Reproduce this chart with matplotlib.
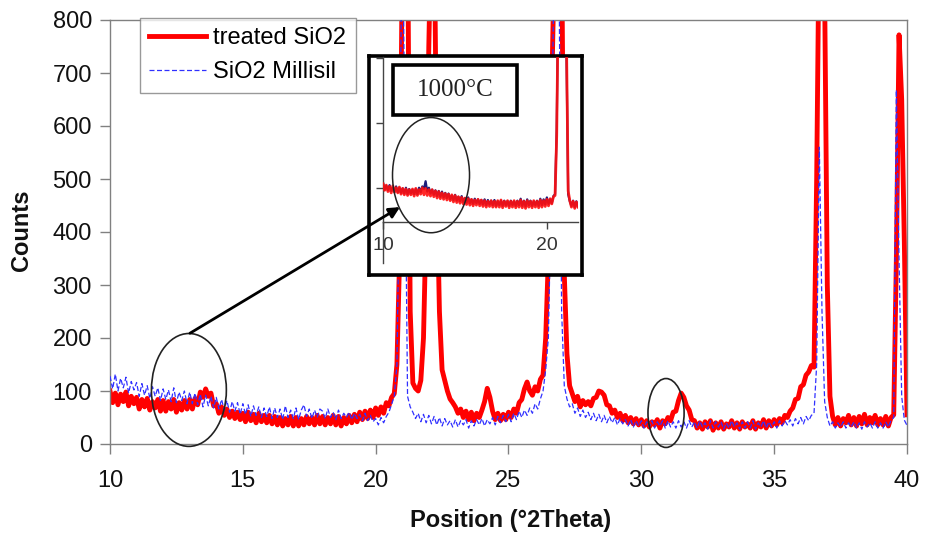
import numpy as np
import matplotlib
matplotlib.use('Agg')
import matplotlib.pyplot as plt
from matplotlib.patches import Ellipse, Rectangle, FancyArrowPatch
from matplotlib.lines import Line2D

plt.rcParams['font.family'] = ['Liberation Sans', 'DejaVu Sans']

# ---------------- data (main pattern, 10.0 .. 40.0 step 0.1 deg 2Theta) -------------
position = np.round(np.linspace(10.0, 40.0, 301), 1)

treated_sio2 = [
    100, 78, 96, 74, 94, 80, 98, 72, 90, 76,       # 10
    88, 66, 84, 70, 86, 64, 80, 68, 84, 62,        # 11
    82, 62, 80, 66, 84, 60, 78, 64, 82, 66,        # 12
    84, 66, 86, 74, 98, 88, 104, 90, 96, 72,       # 13
    76, 58, 70, 54, 66, 50, 62, 48, 60, 46,        # 14
    58, 42, 60, 44, 56, 40, 58, 42, 54, 40,        # 15
    54, 38, 52, 36, 50, 34, 48, 36, 52, 34,        # 16
    50, 34, 48, 36, 52, 38, 50, 36, 54, 38,        # 17
    52, 36, 50, 38, 54, 36, 52, 34, 50, 38,        # 18
    54, 40, 56, 42, 60, 46, 62, 48, 64, 50,        # 19
    68, 54, 70, 58, 78, 72, 88, 95, 150, 350,      # 20
    900, 1000, 1000, 250, 115, 105, 100, 120, 200, 420,   # 21
    750, 1000, 1000, 500, 250, 140, 120, 100, 85, 78,     # 22
    70, 58, 66, 50, 62, 46, 60, 44, 58, 50,        # 23
    64, 80, 105, 88, 62, 46, 58, 44, 56, 46,       # 24
    60, 50, 66, 58, 78, 84, 104, 117, 100, 92,     # 25
    108, 100, 122, 130, 200, 350, 600, 850, 1000, 1000,   # 26
    950, 320, 170, 110, 95, 80, 90, 70, 82, 74,    # 27
    80, 72, 86, 88, 100, 98, 92, 74, 72, 58,       # 28
    64, 50, 58, 44, 54, 40, 50, 38, 48, 36,        # 29
    46, 34, 44, 32, 42, 36, 46, 30, 44, 38,        # 30
    50, 44, 60, 62, 82, 96, 88, 72, 64, 46,        # 31
    44, 30, 40, 28, 42, 32, 44, 26, 40, 30,        # 32
    42, 28, 38, 32, 44, 30, 40, 28, 42, 32,        # 33
    38, 30, 44, 28, 40, 32, 46, 30, 44, 34,        # 34
    46, 36, 48, 40, 54, 50, 62, 68, 84, 86,        # 35
    108, 112, 130, 136, 148, 145, 500, 1000, 1000, 850,   # 36
    300, 90, 52, 36, 50, 34, 48, 40, 54, 36,       # 37
    50, 34, 52, 38, 56, 36, 50, 40, 54, 36,        # 38
    48, 36, 52, 34, 50, 55, 350, 772, 650, 380,    # 39
    55,                                            # 40
]

sio2_millisil = [
    128, 104, 132, 100, 124, 106, 126, 96, 118, 102,    # 10
    116, 90, 114, 92, 110, 86, 108, 90, 106, 82,   # 11
    104, 84, 102, 80, 106, 78, 98, 82, 100, 76,    # 12
    98, 76, 96, 74, 94, 70, 92, 72, 90, 68,        # 13
    88, 66, 84, 64, 82, 60, 80, 62, 78, 56,        # 14
    76, 56, 74, 52, 72, 54, 70, 50, 68, 52,        # 15
    70, 48, 68, 50, 66, 46, 72, 50, 64, 48,        # 16
    68, 46, 64, 74, 52, 66, 48, 64, 50, 66,        # 17
    62, 48, 66, 50, 60, 46, 64, 48, 58, 50,        # 18
    60, 46, 58, 48, 56, 44, 58, 44, 54, 42,        # 19
    48, 36, 50, 40, 52, 60, 75, 90, 150, 500,      # 20
    1000, 600, 90, 70, 60, 48, 58, 42, 56, 40,     # 21
    54, 38, 52, 36, 50, 34, 48, 36, 44, 32,        # 22
    46, 32, 44, 36, 46, 30, 44, 34, 46, 36,        # 23
    48, 34, 46, 38, 50, 36, 52, 40, 54, 42,        # 24
    56, 42, 58, 46, 62, 50, 64, 54, 68, 58,        # 25
    76, 66, 85, 100, 140, 200, 450, 850, 1000, 900,     # 26
    250, 110, 85, 70, 76, 58, 68, 52, 64, 50,      # 27
    60, 46, 58, 44, 56, 42, 54, 40, 52, 40,        # 28
    50, 36, 48, 38, 46, 34, 46, 32, 44, 34,        # 29
    44, 30, 42, 32, 44, 30, 42, 34, 44, 30,        # 30
    44, 32, 42, 30, 44, 32, 42, 30, 44, 32,        # 31
    42, 30, 44, 32, 40, 28, 44, 30, 42, 32,        # 32
    42, 28, 40, 30, 44, 32, 40, 28, 42, 30,        # 33
    42, 30, 44, 28, 40, 32, 44, 30, 42, 32,        # 34
    42, 30, 44, 34, 44, 36, 46, 34, 48, 38,        # 35
    50, 38, 52, 44, 54, 58, 150, 560, 250, 80,     # 36
    50, 34, 42, 30, 40, 32, 42, 30, 40, 32,        # 37
    42, 30, 40, 28, 42, 32, 40, 30, 42, 30,        # 38
    40, 30, 42, 32, 45, 50, 668, 350, 90, 45,      # 39
    35,                                            # 40
]

# ---------------- inset data (1000 °C, 10.0 .. 21.9 step 0.1) ----------------------
inset_position = np.round(np.linspace(10.0, 21.9, 120), 1)

inset_treated = [
    106, 96, 104, 94, 102, 92, 103, 93, 100, 92,
    101, 90, 99, 89, 98, 88, 97, 89, 98, 87,
    99, 88, 97, 90, 100, 89, 99, 88, 97, 87,
    97, 86, 95, 84, 94, 83, 92, 82, 91, 81,
    90, 80, 89, 78, 88, 77, 86, 76, 85, 75,
    84, 74, 83, 73, 82, 72, 81, 73, 82, 72,
    81, 71, 80, 70, 79, 71, 80, 70, 79, 70,
    80, 70, 81, 69, 79, 71, 80, 69, 79, 70,
    80, 69, 79, 70, 81, 69, 79, 68, 80, 70,
    79, 69, 80, 70, 79, 69, 81, 70, 80, 71,
    82, 72, 83, 75, 86, 88, 180, 400, 500, 500,
    500, 450, 320, 95, 80, 70, 79, 68, 78, 70,
]

inset_millisil = [
    108, 97, 103, 96, 104, 95, 100, 94, 102, 93,
    100, 92, 99, 91, 100, 90, 98, 91, 97, 90,
    98, 90, 100, 93, 102, 98, 110, 94, 100, 91,
    97, 89, 96, 87, 95, 86, 94, 85, 92, 84,
    91, 82, 88, 81, 89, 80, 86, 79, 87, 78,
    84, 77, 85, 76, 82, 75, 83, 76, 82, 75,
    81, 74, 82, 73, 81, 74, 80, 73, 81, 72,
    79, 73, 80, 72, 80, 73, 79, 72, 80, 73,
    79, 72, 80, 73, 83, 72, 80, 71, 82, 73,
    80, 72, 79, 73, 80, 72, 83, 73, 82, 74,
    85, 75, 82, 76, 87, 90, 190, 420, 500, 500,
    500, 430, 300, 90, 79, 72, 80, 70, 79, 71,
]

x_ticks = [10, 15, 20, 25, 30, 35, 40]
y_ticks = [0, 100, 200, 300, 400, 500, 600, 700, 800]
series_labels = ['treated SiO2', 'SiO2 Millisil']

# ---------------- figure ------------------------------------------------------------
W, H = 928, 535
fig = plt.figure(figsize=(W / 100, H / 100), dpi=100)


def fx(px):
    return px / W


def fy(py):
    return 1 - py / H


GRAY = '#808080'
RED = '#ff0000'
BLUE = '#3030ff'

ax = fig.add_axes([fx(110), fy(444), (907 - 110) / W, (444 - 20) / H])
ax.plot(position, treated_sio2, color=RED, lw=3.5, zorder=2)
ax.plot(position, sio2_millisil, color=BLUE, lw=0.9, ls=(0, (4, 2)), zorder=3)
ax.set_xlim(10, 40)
ax.set_ylim(0, 800)
ax.set_xticks(x_ticks)
ax.set_yticks(y_ticks)
for s in ax.spines.values():
    s.set_color(GRAY)
    s.set_linewidth(1.0)
ax.tick_params(axis='both', direction='out', length=7, width=1, color=GRAY,
               labelsize=17, labelcolor='#111111')
ax.tick_params(axis='x', pad=12)
ax.tick_params(axis='y', pad=6)

fig.text(fx(22), fy(230), 'Counts', rotation=90, ha='center', va='center',
         fontsize=17, fontweight='bold', color='#111111')
fig.text(fx(511), fy(521), 'Position (°2Theta)', ha='center', va='center',
         fontsize=17, fontweight='bold', color='#111111')

# ellipses in main plot
ax.add_patch(Ellipse((12.97, 102), 2.82, 213, fill=False, ec='#222222', lw=1.2,
                     clip_on=False, zorder=4))
ax.add_patch(Ellipse((30.93, 58.5), 1.36, 130, fill=False, ec='#222222', lw=1.2,
                     clip_on=False, zorder=4))

# legend
handles = [Line2D([], [], color=RED, lw=3.5),
           Line2D([], [], color=BLUE, lw=0.9, ls=(0, (4, 2)))]
leg = ax.legend(handles, series_labels, loc='upper left',
                bbox_to_anchor=(fx(140), fy(18)), bbox_transform=fig.transFigure,
                frameon=True, fancybox=False, edgecolor=GRAY, fontsize=17,
                handlelength=2.4, handletextpad=0.3, borderpad=0.4,
                labelspacing=0.5, borderaxespad=0)
leg.get_frame().set_linewidth(1.0)

# ---------------- inset -------------------------------------------------------------
axf = fig.add_axes([fx(369), fy(275), 213 / W, 219 / H])
axf.set_xticks([])
axf.set_yticks([])
for s in axf.spines.values():
    s.set_color('black')
    s.set_linewidth(2.6)
axf.set_facecolor('white')

axi = fig.add_axes([fx(383), fy(222), 195 / W, 165 / H])
axi.patch.set_visible(False)
axi.plot(inset_position, inset_millisil, color='#1c1c7a', lw=1.6, zorder=2)
axi.plot(inset_position, inset_treated, color='#ff1010', lw=2.0, alpha=0.9, zorder=3)
axi.set_xlim(10, 21.9)
axi.set_ylim(47, 302)
axi.set_xticks([10, 20])
axi.set_yticks([100, 200, 300])
axi.set_yticklabels([])
axi.spines['top'].set_visible(False)
axi.spines['right'].set_visible(False)
for s in ('left', 'bottom'):
    axi.spines[s].set_color('#444444')
    axi.spines[s].set_linewidth(1.0)
axi.tick_params(axis='both', direction='out', length=5, width=1, color='#444444',
                labelsize=14, labelcolor='#333333')
axi.tick_params(axis='x', pad=6)
axi.plot([0, 0], [0, -0.25], transform=axi.transAxes, color='#444444', lw=1,
         clip_on=False)
axi.add_patch(Ellipse((12.93, 119.4), 4.7, 178, fill=False, ec='#222222', lw=1.1,
                      clip_on=False, zorder=4))

# 1000 °C label box
fig.add_artist(Rectangle((fx(393), fy(115)), 124 / W, 50 / H, transform=fig.transFigure,
                         fc='white', ec='black', lw=2.6, zorder=10))
fig.text(fx(455), fy(90), '1000°C', ha='center', va='center', fontsize=18,
         family='Liberation Serif', color='#222222', zorder=11)

# arrow from main ellipse to inset ellipse
arrow = FancyArrowPatch(posA=(13.01, 209), posB=(20.915, 447), transform=ax.transData,
                        arrowstyle='-|>', mutation_scale=16, lw=2.0, color='black',
                        shrinkA=0, shrinkB=0, zorder=12)
fig.add_artist(arrow)

fig.savefig('out.png', dpi=100)
